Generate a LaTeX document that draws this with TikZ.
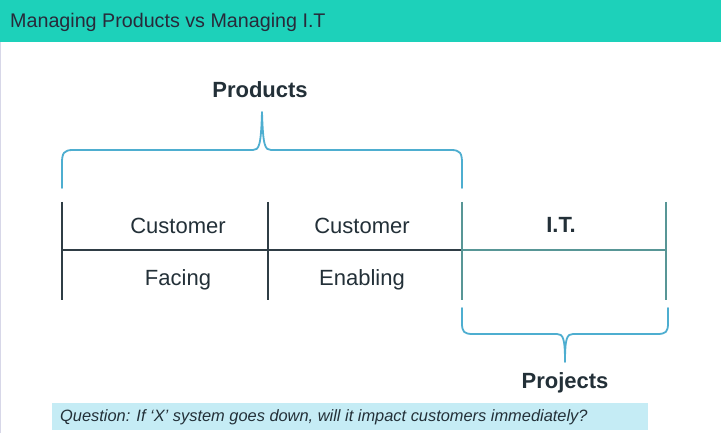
\documentclass[tikz,border=0pt]{standalone}
\usepackage{fontspec}
\setmainfont{Liberation Sans}
\begin{document}
\begin{tikzpicture}[x=1pt,y=-1pt,
  cell/.style={inner sep=0pt,anchor=center,text=celltext,font=\fontsize{22}{26}\selectfont},
  head/.style={inner sep=0pt,anchor=center,text=celltext,font=\fontsize{22}{26}\selectfont\bfseries},
  brace/.style={draw=bracecol,line width=1.8pt,line cap=round,line join=round},
  gridline/.style={draw=gridcol,line width=1.5pt},
  itline/.style={draw=itcol,line width=1.5pt}]
\definecolor{headbg}{RGB}{29,209,186}
\definecolor{titletext}{RGB}{40,42,58}
\definecolor{celltext}{RGB}{35,48,56}
\definecolor{bracecol}{RGB}{78,174,208}
\definecolor{gridcol}{RGB}{47,61,69}
\definecolor{itcol}{RGB}{88,150,150}
\definecolor{qbg}{RGB}{197,236,245}
\definecolor{sideline}{RGB}{215,215,232}
% canvas
\useasboundingbox (0,0) rectangle (721,433);
\fill[white] (0,0) rectangle (721,433);
\draw[sideline,line width=1pt] (0.5,42) -- (0.5,433);
% header band
\fill[headbg] (0,0) rectangle (721,42);
\node[anchor=base west,inner sep=0pt,text=titletext,font=\fontsize{19.7}{23}\selectfont] (title) at (10,28) {Managing Products vs Managing I.T};
% table grid
\coordinate (a1) at (62,202);  \coordinate (a2) at (62,300);
\coordinate (b1) at (268,202); \coordinate (b2) at (268,300);
\coordinate (c1) at (462,202); \coordinate (c2) at (462,300);
\coordinate (d1) at (666,202); \coordinate (d2) at (666,300);
\coordinate (mL) at (62,250);  \coordinate (mC) at (462,250); \coordinate (mR) at (666,250);
\draw[gridline] (a1) -- (a2);
\draw[gridline] (b1) -- (b2);
\draw[gridline] (mL) -- (mC);
\draw[itline] (mC) -- (mR);
\draw[itline] (c1) -- (c2);
\draw[itline] (d1) -- (d2);
% cell texts
\node[cell] (cf1) at (178,226) {Customer};
\node[cell] (cf2) at (178,280) {Facing};
\node[cell] (ce1) at (362,226) {Customer};
\node[cell] (ce2) at (362,280) {Enabling};
\node[head] (it) at (561,225) {I.T.};
% brace over products
\draw[brace] (62,188) -- (62,163) .. controls (62,153) and (64,150) .. (73,150)
  -- (253,150) .. controls (259,150) and (261,146) .. (262,112)
  .. controls (263,146) and (265,150) .. (271,150)
  -- (451,150) .. controls (460,150) and (462,153) .. (462,163) -- (462,188);
\node[head] (products) at (260,90) {Products};
% brace under projects
\draw[brace] (462,308) -- (462,323) .. controls (462,332) and (464,334) .. (473,334)
  -- (557,334) .. controls (563,334) and (565,338) .. (565,362)
  .. controls (565,338) and (567,334) .. (573,334)
  -- (657,334) .. controls (666,334) and (668,332) .. (668,323) -- (668,308);
\node[head] (projects) at (565,383) {Projects};
% question box
\fill[qbg] (52,403) rectangle (648,430);
\node[anchor=base west,inner sep=0pt,text=celltext,font=\fontsize{16.4}{19}\selectfont\itshape] (question) at (60,421.5) {Question: If ‘X’ system goes down, will it impact customers immediately?};
\end{tikzpicture}
\end{document}
